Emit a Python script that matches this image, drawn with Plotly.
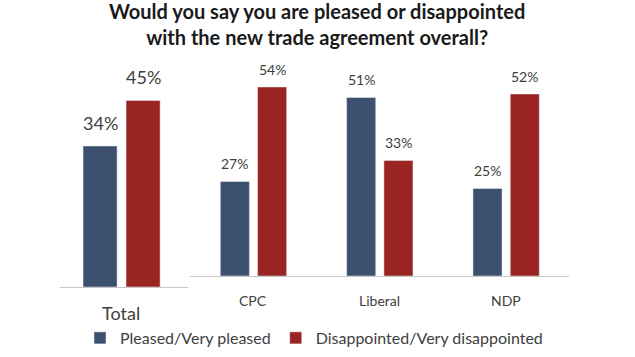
import plotly.graph_objects as go

# ---- data ----
total_category = ["Total"]
total_pleased = [34]
total_disappointed = [45]

party_categories = ["CPC", "Liberal", "NDP"]
party_pleased = [27, 51, 25]
party_disappointed = [54, 33, 52]

series_names = ["Pleased/Very pleased", "Disappointed/Very disappointed"]
title_lines = ["Would you say you are pleased or disappointed",
               "with the new trade agreement overall?"]

BLUE = "#3E506F"
RED = "#9A2421"
TXT = "#404040"
FONT = "Lato"
W, H = 635, 357

fig = go.Figure()

# Total subplot
fig.add_trace(go.Bar(x=total_category, y=total_pleased, xaxis="x", yaxis="y",
                     marker_color=BLUE, width=0.266, offset=-0.32, showlegend=False,
                     name=series_names[0]))
fig.add_trace(go.Bar(x=total_category, y=total_disappointed, xaxis="x", yaxis="y",
                     marker_color=RED, width=0.266, offset=0.016, showlegend=False,
                     name=series_names[1]))
# Party subplot
fig.add_trace(go.Bar(x=party_categories, y=party_pleased, xaxis="x2", yaxis="y2",
                     marker_color=BLUE, width=0.23, offset=-0.26, name=series_names[0]))
fig.add_trace(go.Bar(x=party_categories, y=party_disappointed, xaxis="x2", yaxis="y2",
                     marker_color=RED, width=0.23, offset=0.035, name=series_names[1]))

annotations = []
# value labels
for cat, v in zip(total_category, total_pleased):
    annotations.append(dict(x=cat, y=v, xref="x", yref="y", text=f"{v}%", showarrow=False,
                            xshift=(-0.32 + 0.133) * 128, yshift=23, yanchor="middle",
                            font=dict(size=18, color=TXT, family=FONT)))
for cat, v in zip(total_category, total_disappointed):
    annotations.append(dict(x=cat, y=v, xref="x", yref="y", text=f"{v}%", showarrow=False,
                            xshift=(0.016 + 0.133) * 128, yshift=23, yanchor="middle",
                            font=dict(size=18, color=TXT, family=FONT)))
for cat, v in zip(party_categories, party_pleased):
    annotations.append(dict(x=cat, y=v, xref="x2", yref="y2", text=f"{v}%", showarrow=False,
                            xshift=(-0.26 + 0.115) * 126.3, yshift=18, yanchor="middle",
                            font=dict(size=14, color=TXT, family=FONT)))
for cat, v in zip(party_categories, party_disappointed):
    annotations.append(dict(x=cat, y=v, xref="x2", yref="y2", text=f"{v}%", showarrow=False,
                            xshift=(0.035 + 0.115) * 126.3, yshift=18, yanchor="middle",
                            font=dict(size=14, color=TXT, family=FONT)))
# category labels
for cat in total_category:
    annotations.append(dict(x=cat, y=0, xref="x", yref="y", text=cat, showarrow=False,
                            xshift=-3, yshift=-26, yanchor="middle",
                            font=dict(size=18, color=TXT, family=FONT)))
for cat in party_categories:
    annotations.append(dict(x=cat, y=0, xref="x2", yref="y2", text=cat, showarrow=False,
                            yshift=-24, yanchor="middle",
                            font=dict(size=14, color=TXT, family=FONT)))
# title (two lines)
annotations.append(dict(x=317 / W, y=1 + 2 / H, xref="paper", yref="paper",
                        text="<b>" + "<br>".join(title_lines) + "</b>",
                        showarrow=False, yanchor="top", xanchor="center", borderpad=0,
                        font=dict(size=20, color="#1a1a1a", family=FONT)))

fig.update_layout(
    width=W, height=H,
    margin=dict(l=0, r=0, t=0, b=0),
    paper_bgcolor="white", plot_bgcolor="white",
    font=dict(family=FONT, color=TXT),
    barmode="overlay",
    xaxis=dict(domain=[60 / W, 188 / W], showline=True, linecolor="#C8C8C8", linewidth=1,
               showticklabels=False, ticks="", showgrid=False, type="category"),
    yaxis=dict(domain=[1 - 287 / H, 1 - 80 / H], range=[0, 207 / 4.147], visible=False,
               showgrid=False),
    xaxis2=dict(domain=[190 / W, 569 / W], showline=True, linecolor="#C8C8C8", linewidth=1,
                showticklabels=False, ticks="", showgrid=False, type="category", anchor="y2"),
    yaxis2=dict(domain=[1 - 276 / H, 1 - 66 / H], range=[0, 60], visible=False,
                showgrid=False, anchor="x2"),
    legend=dict(orientation="h", x=80 / W, xanchor="left", y=1 - 338 / H, yanchor="middle",
                font=dict(size=16, color=TXT, family=FONT), bgcolor="rgba(0,0,0,0)",
                itemwidth=30, tracegroupgap=0),
    annotations=annotations,
)

fig.write_html("out.html", config={"displayModeBar": False},
               post_script="document.body.style.margin='0';")
